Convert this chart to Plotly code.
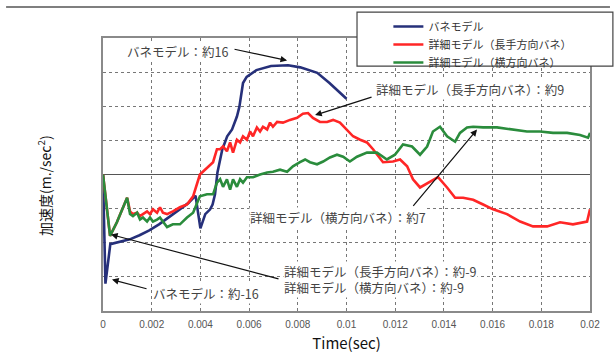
import plotly.graph_objects as go

# Time axis (sec) and acceleration (m/sec^2) for each model
t_spring = [0.0, 0.0001, 0.0003, 0.0007, 0.0011, 0.0015, 0.0019, 0.0023, 0.0027, 0.0031,
            0.0035, 0.0038, 0.0040, 0.0042, 0.0044, 0.0045, 0.0046, 0.0047, 0.0049, 0.0051,
            0.0053, 0.0055, 0.0056, 0.00575, 0.0059, 0.0063, 0.0069, 0.0076, 0.0081, 0.0088,
            0.0093, 0.0100]
a_spring = [0.0, -16.0, -10.2, -9.8, -9.5, -8.9, -8.2, -7.3, -6.3, -5.3,
            -4.2, -3.1, -7.9, -5.8, -5.1, -4.4, -2.9, 0.3, 3.7, 5.6,
            6.6, 8.5, 9.9, 13.4, 14.3, 15.3, 15.9, 16.0, 15.7, 14.9,
            13.4, 11.1]

t_long = [0.0, 0.00029, 0.00057, 0.00082, 0.00099, 0.00111, 0.00123, 0.00140, 0.00152, 0.00164,
          0.00181, 0.00193, 0.00205, 0.00222, 0.00234, 0.00246, 0.00263, 0.00287, 0.00316, 0.00345,
          0.00370, 0.00398, 0.00427, 0.00452, 0.00468, 0.00481, 0.00493, 0.00509, 0.00522, 0.00534,
          0.00550, 0.00563, 0.00575, 0.00591, 0.00604, 0.00616, 0.00632, 0.00645, 0.00657, 0.00674,
          0.00686, 0.00698, 0.00715, 0.00739, 0.00768, 0.00797, 0.00821, 0.00842, 0.00862, 0.00891,
          0.00920, 0.00945, 0.00973, 0.01002, 0.01027, 0.01056, 0.01084, 0.01109, 0.01150, 0.01191,
          0.01220, 0.01249, 0.01273, 0.01302, 0.01343, 0.01376, 0.01413, 0.01446, 0.01479, 0.01520,
          0.01561, 0.01602, 0.01659, 0.01713, 0.01766, 0.01824, 0.01877, 0.01930, 0.01988, 0.02000]
a_long = [0.0, -9.0, -7.0, -4.8, -3.4, -5.4, -5.8, -5.6, -6.1, -5.8,
          -5.4, -5.8, -5.1, -5.6, -4.8, -5.6, -5.8, -5.4, -4.8, -4.4,
          -3.2, 0.0, 1.0, 1.8, 3.7, 3.7, 4.1, 3.4, 4.7, 3.2,
          5.1, 4.7, 5.6, 5.1, 6.3, 5.6, 6.9, 6.3, 7.0, 6.6,
          7.6, 7.0, 7.7, 7.6, 8.0, 8.3, 8.9, 9.0, 8.3, 7.7,
          7.7, 8.0, 7.6, 6.6, 5.6, 5.1, 4.7, 3.7, 1.8, 1.9,
          2.2, 1.2, -0.7, -1.9, -1.0, -0.4, -1.9, -3.4, -3.4, -3.7,
          -4.4, -5.1, -5.8, -6.9, -7.6, -7.6, -7.0, -7.3, -6.9, -5.1]

t_lat = [0.0, 0.00029, 0.00057, 0.00082, 0.00099, 0.00111, 0.00123, 0.00140, 0.00152, 0.00164,
         0.00181, 0.00193, 0.00205, 0.00222, 0.00234, 0.00246, 0.00263, 0.00287, 0.00316, 0.00345,
         0.00370, 0.00398, 0.00427, 0.00452, 0.00468, 0.00481, 0.00493, 0.00509, 0.00522, 0.00534,
         0.00550, 0.00563, 0.00575, 0.00591, 0.00616, 0.00645, 0.00674, 0.00698, 0.00727, 0.00756,
         0.00780, 0.00809, 0.00830, 0.00850, 0.00879, 0.00904, 0.00932, 0.00961, 0.00986, 0.01014,
         0.01043, 0.01084, 0.01125, 0.01166, 0.01199, 0.01232, 0.01269, 0.01302, 0.01331, 0.01355,
         0.01384, 0.01413, 0.01446, 0.01466, 0.01495, 0.01520, 0.01561, 0.01618, 0.01684, 0.01741,
         0.01795, 0.01848, 0.01906, 0.01959, 0.01992, 0.02000]
a_lat = [0.0, -9.0, -7.0, -4.7, -3.4, -5.8, -6.1, -5.6, -6.6, -6.3,
         -6.9, -6.3, -6.9, -6.6, -6.3, -6.9, -7.7, -7.3, -7.3, -6.3,
         -5.6, -3.2, -2.9, -2.9, -1.2, -0.7, -1.8, -0.7, -2.2, -0.7,
         -1.8, -0.7, -1.2, -0.4, -0.4, 0.0, 0.3, 0.4, 0.7, 0.4,
         1.2, 1.8, 2.2, 1.8, 1.5, 1.9, 2.5, 2.9, 2.6, 1.9,
         2.6, 3.2, 3.2, 2.2, 2.9, 4.4, 4.1, 2.9, 4.1, 6.3,
         7.0, 5.6, 4.8, 6.1, 6.9, 7.0, 6.9, 6.9, 6.6, 6.3,
         6.3, 6.1, 6.1, 5.8, 5.4, 6.1]

x_ticks = [0, 0.002, 0.004, 0.006, 0.008, 0.01, 0.012, 0.014, 0.016, 0.018, 0.02]
x_tick_text = ["0", "0.002", "0.004", "0.006", "0.008", "0.01", "0.012", "0.014", "0.016", "0.018", "0.02"]

names = ["バネモデル", "詳細モデル（長手方向バネ）", "詳細モデル（横方向バネ）"]
colors = ["#26307a", "#ff2626", "#2a8c3c"]
legend_ids = ["legend", "legend2", "legend3"]
legend_tops = [1.0952, 1.0293, 0.9634]

JP = "Noto Sans CJK JP"

fig = go.Figure()
for t, a, name, c, lg in zip([t_spring, t_long, t_lat], [a_spring, a_long, a_lat], names, colors, legend_ids):
    fig.add_trace(go.Scatter(x=t, y=a, mode="lines", name=name, legend=lg,
                             line=dict(color=c, width=2.6)))

# Callout texts and arrows (data coordinates)
labels = [
    dict(text="バネモデル：約16", x=0.00306, y=18.0, tail=(0.00534, 18.4), head=(0.00756, 16.7)),
    dict(text="詳細モデル（長手方向バネ）：約9", x=0.01509, y=12.4, tail=(0.01109, 11.4), head=(0.00871, 8.7)),
    dict(text="詳細モデル（横方向バネ）：約7", x=0.00965, y=-6.3, tail=(0.01269, -4.8), head=(0.01536, 6.6)),
    dict(text="バネモデル：約-16", x=0.00423, y=-17.4, tail=(0.00185, -16.8), head=(0.00037, -15.4)),
]
annotations = []
for lb in labels:
    annotations.append(dict(x=lb["head"][0], y=lb["head"][1], ax=lb["tail"][0], ay=lb["tail"][1],
                            xref="x", yref="y", axref="x", ayref="y", text="", showarrow=True,
                            arrowhead=2, arrowsize=1.1, arrowwidth=1.2, arrowcolor="#111"))
    annotations.append(dict(x=lb["x"], y=lb["y"], xref="x", yref="y", text=lb["text"], showarrow=False,
                            font=dict(family=JP, size=12.5, color="#444"), bgcolor="white",
                            borderpad=0))

annotations.append(dict(x=0.00033, y=-8.8, ax=0.00727, ay=-15.35, xref="x", yref="y", axref="x", ayref="y",
                        text="", showarrow=True, arrowhead=2, arrowsize=1.1, arrowwidth=1.2, arrowcolor="#111"))
annotations.append(dict(x=0.00739, y=-15.35, xref="x", yref="y", xanchor="left", align="left",
                        text="詳細モデル（長手方向バネ）：約-9<br>詳細モデル（横方向バネ）：約-9",
                        showarrow=False, font=dict(family=JP, size=12.5, color="#444"),
                        bgcolor="white", borderpad=0))

# Y axis title
annotations.append(dict(x=-0.119, y=0.458, xref="paper", yref="paper", xanchor="center", yanchor="middle",
                        textangle=-90, showarrow=False,
                        text="加速度(m./sec<sup>2</sup>)", font=dict(family=JP, size=14, color="#111")))

legend_style = dict(x=0.586, xanchor="left", yanchor="top", bgcolor="rgba(0,0,0,0)",
                    font=dict(family=JP, size=11, color="#333"), itemwidth=30)

fig.update_layout(
    width=614, height=363,
    margin=dict(l=103, r=24, t=38, b=52),
    paper_bgcolor="white", plot_bgcolor="white",
    font=dict(family=JP),
    showlegend=True,
    legend=dict(y=legend_tops[0], **legend_style),
    legend2=dict(y=legend_tops[1], **legend_style),
    legend3=dict(y=legend_tops[2], **legend_style),
    xaxis=dict(range=[0, 0.02], tickvals=x_ticks, ticktext=x_tick_text,
               showgrid=True, gridcolor="#777", griddash="dot", gridwidth=1,
               showline=True, linecolor="#8a8a8a", linewidth=2, mirror=True,
               ticks="", zeroline=False, ticklabelstandoff=3,
               tickfont=dict(family="Liberation Sans", size=10, color="#555"),
               title=dict(text="Time(sec)", font=dict(family=JP, size=15, color="#111"), standoff=9)),
    yaxis=dict(range=[-20, 20], dtick=5, showticklabels=False,
               showgrid=True, gridcolor="#777", griddash="dot", gridwidth=1,
               showline=True, linecolor="#8a8a8a", linewidth=2, mirror=True,
               ticks="", zeroline=True, zerolinecolor="#555", zerolinewidth=1.2),
    annotations=annotations,
    shapes=[
        dict(type="line", xref="paper", yref="paper", x0=-0.199, x1=1.041, y0=1.1136, y1=1.1136,
             line=dict(color="#555", width=1.5)),
        dict(type="rect", xref="paper", yref="paper", x0=0.5216, x1=1.047, y0=0.897, y1=1.095,
             line=dict(color="#444", width=1.2), fillcolor="white", layer="above"),
    ],
)

fig.write_html("out.html")
